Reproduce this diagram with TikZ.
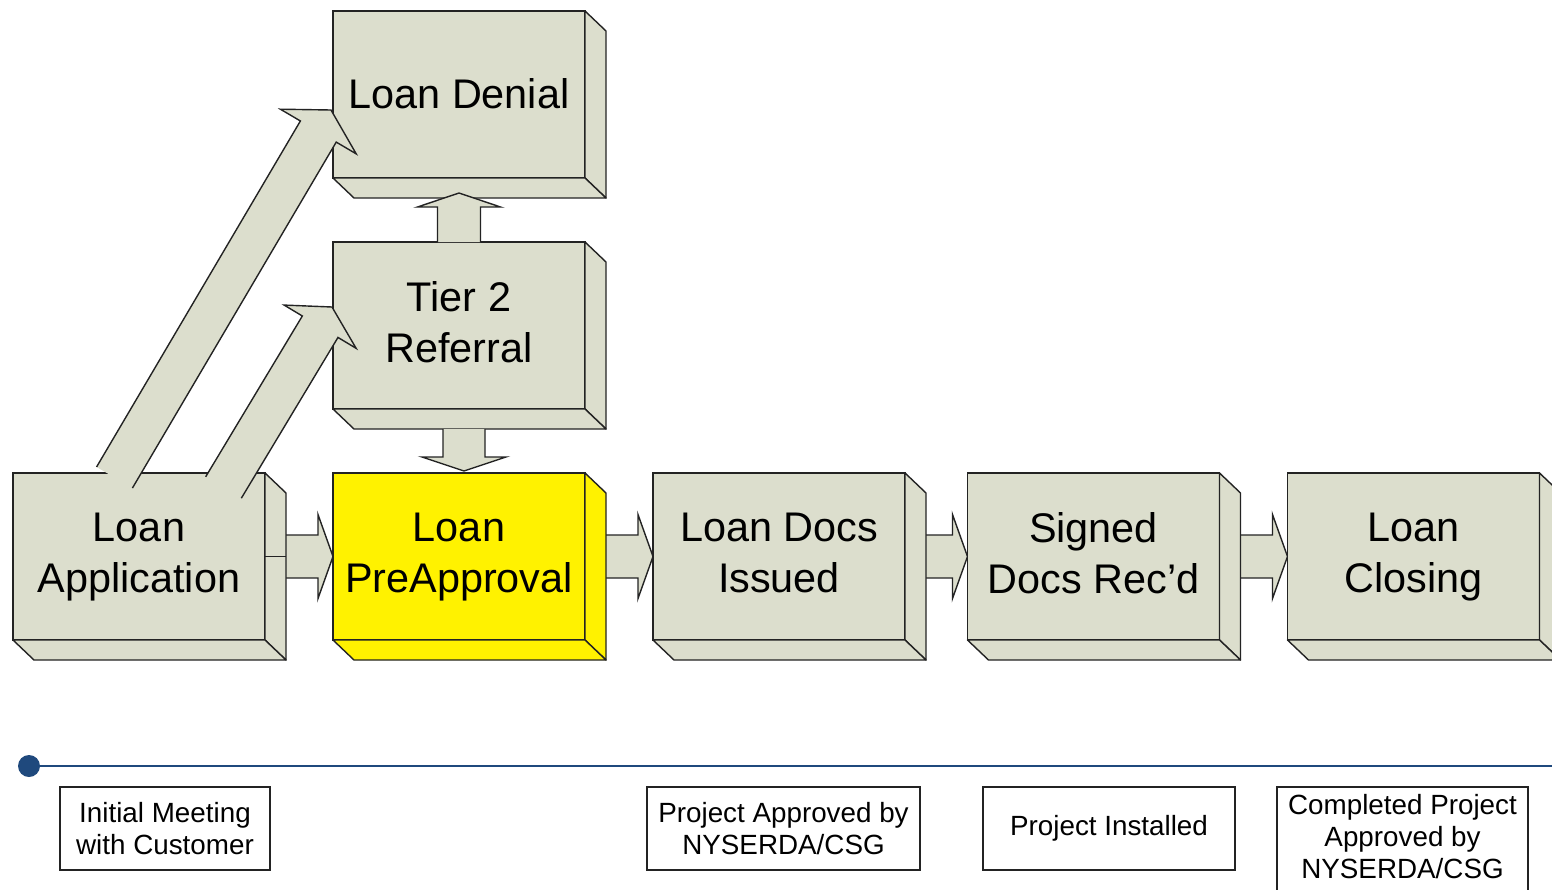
\documentclass[tikz,border=0pt]{standalone}
\usepackage{fontspec}
\setmainfont{Liberation Sans}
\usetikzlibrary{calc}
\pgfdeclarelayer{bg}
\pgfsetlayers{bg,main}
\definecolor{boxfill}{RGB}{220,222,205}
\definecolor{edgec}{RGB}{35,35,35}
\definecolor{tlc}{RGB}{31,73,125}
\tikzset{
  face/.style={draw=edgec, line width=0.9pt, fill=boxfill, minimum width=126pt, minimum height=83.5pt,
    inner sep=0pt, outer sep=0pt},
  facetext/.style={inner sep=0pt, align=center, font=\fontsize{20.7}{25.5}\selectfont,
    execute at begin node=\strut, execute at end node=\strut},
  sideface/.style={draw=edgec, line width=0.7pt, line join=round},
  arrowline/.style={draw=edgec, line width=0.7pt, line join=miter},
  milestone/.style={draw=edgec, line width=0.8pt, fill=white, minimum height=41.5pt, inner sep=0pt,
    align=center, font=\fontsize{13.9}{16}\selectfont},
  mtext/.style={inner sep=0pt, align=center, font=\fontsize{13.9}{16}\selectfont},
}
% box with text: #1 name, #2 x, #3 y, #4 fill, #5 text
\newcommand\facebox[5]{%
  \node[face, fill=#4] (#1) at (#2,#3) {};
  \node[facetext] (#1t) at ($(#1)+(0,4)$) {#5};
  \filldraw[sideface, fill=#4] (#1.north east) -- ($(#1.north east)+(21,20)$) -- ($(#1.south east)+(21,20)$) -- (#1.south east) -- cycle;
  \filldraw[sideface, fill=#4] (#1.south west) -- ($(#1.south west)+(21,20)$) -- ($(#1.south east)+(21,20)$) -- (#1.south east) -- cycle;
}
% block arrow: #1 shaft base centre, #2 tip, #3 shaft half width, #4 head half width, #5 head length
\newcommand\blockarrow[5]{%
  \coordinate (hb) at ($(#2)!#5!(#1)$);
  \coordinate (sl) at ($(#1)!#3!90:(#2)$);
  \coordinate (sr) at ($(#1)!#3!-90:(#2)$);
  \coordinate (hl) at ($(hb)!#3!90:(#2)$);
  \coordinate (hr) at ($(hb)!#3!-90:(#2)$);
  \coordinate (bl) at ($(hb)!#4!90:(#2)$);
  \coordinate (br) at ($(hb)!#4!-90:(#2)$);
  \fill[boxfill] (sl) -- (hl) -- (bl) -- (#2) -- (br) -- (hr) -- (sr) -- cycle;
  \draw[arrowline] (sl) -- (hl) -- (bl) -- (#2) -- (br) -- (hr) -- (sr);
}
\newcommand\harrow[2]{%
  \coordinate (hs) at ($(#1.east)+(12,0)$);
  \blockarrow{hs}{#2.west}{10.75pt}{21pt}{7.5pt}
}
\begin{document}
\begin{tikzpicture}[x=0.5pt, y=-0.5pt]
\useasboundingbox (0,0) rectangle (1552,889);
\clip (0,0) rectangle (1552,889);

% boxes
\facebox{app}{139}{556.5}{boxfill}{Loan\\Application}
\facebox{pre}{459}{556.5}{yellow}{Loan\\PreApproval}
\facebox{docs}{779}{556.5}{boxfill}{Loan Docs\\Issued}
\facebox{signed}{1093.5}{556.5}{boxfill}{Signed\\Docs Rec’d}
\facebox{closing}{1413.5}{556.5}{boxfill}{Loan\\Closing}
\facebox{den}{459}{94.5}{boxfill}{Loan Denial}
\facebox{tier}{459}{325.5}{boxfill}{Tier 2\\Referral}
\draw[arrowline] (app.east) -- ++(21,0);

% horizontal arrows (behind the boxes)
\begin{pgfonlayer}{bg}
\harrow{app}{pre}
\harrow{pre}{docs}
\harrow{docs}{signed}
\harrow{signed}{closing}
\end{pgfonlayer}

% vertical arrows
\coordinate (upS) at (tier.north);
\coordinate (upT) at ($(den.south)+(0,15)$);
\blockarrow{upS}{upT}{10.75pt}{20.75pt}{7pt}
\coordinate (dnS) at ($(tier.south)+(5,20)$);
\coordinate (dnT) at ($(pre.north)+(5,-2)$);
\blockarrow{dnS}{dnT}{10.5pt}{21pt}{7pt}

% diagonal arrows
\coordinate (aS) at ($(app.north west)+(101.5,4.5)$);
\coordinate (aT) at ($(den.west)+(-2,15.5)$);
\blockarrow{aS}{aT}{10.4pt}{22pt}{12.5pt}
\coordinate (bS) at ($(app.north west)+(210.5,14.5)$);
\coordinate (bT) at ($(tier.west)+(-1,-18.5)$);
\blockarrow{bS}{bT}{10.4pt}{21pt}{11.5pt}

% timeline
\node[circle, fill=tlc, inner sep=0pt, minimum size=11pt] (dot) at (29,766) {};
\coordinate (tlend) at (1570,766);
\draw[tlc, line width=0.9pt] (dot) -- (tlend);

% milestones
\node[milestone, minimum width=105pt] (m1) at (165,828.5) {Initial Meeting\\with Customer};
\node[milestone, minimum width=136.5pt] (m2) at (783.5,828.5) {Project Approved by\\NYSERDA/CSG};
\node[milestone, minimum width=126pt] (m3) at (1109,828.5) {Project Installed};
\node[milestone, minimum width=125.5pt, minimum height=54pt] (m4) at (1402.5,841) {};
\node[mtext] (m4t) at (1402.5,837) {Completed Project\\Approved by\\NYSERDA/CSG};
\end{tikzpicture}
\end{document}
